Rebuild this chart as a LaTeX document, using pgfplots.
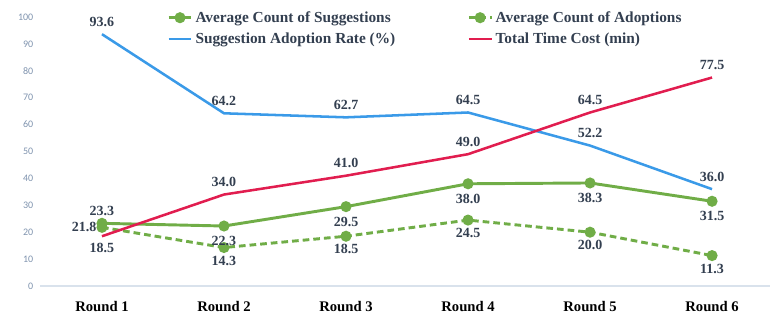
\documentclass[border=0pt]{standalone}
\usepackage{pgfplots}
\pgfplotsset{compat=1.18}
\usepackage{fontspec}
\setmainfont{Liberation Serif}
\newfontfamily\carlito{Carlito}
\definecolor{cgreen}{HTML}{70AD47}
\definecolor{cblue}{HTML}{3A9AE8}
\definecolor{cred}{HTML}{E11D4F}
\definecolor{clabel}{HTML}{333F50}
\definecolor{ctick}{HTML}{7F93AE}
\definecolor{caxis}{HTML}{D9E2EC}

\pgfplotsset{vlab/.style 2 args={
  draw=none, mark=none, forget plot,
  nodes near coords={\pgfmathprintnumber[fixed,zerofill,precision=1]{\pgfplotspointmeta}},
  point meta=y,
  every node near coord/.append style={anchor=#1, #2, font=\fontsize{10.5}{12}\selectfont\bfseries, text=clabel, inner sep=3pt},
}}

\begin{document}
\begin{tikzpicture}
\useasboundingbox (0,0) rectangle (580.5pt,237.75pt);
\begin{axis}[
  at={(30pt,23.25pt)}, anchor=south west,
  scale only axis, width=547.5pt, height=201.75pt,
  xmin=-0.508, xmax=5.475, ymin=0, ymax=100,
  axis lines*=left,
  x axis line style={draw=caxis, line width=1.2pt},
  y axis line style={draw=none},
  major tick length=0pt,
  xtick={0,1,2,3,4,5},
  xticklabels={Round 1,Round 2,Round 3,Round 4,Round 5,Round 6},
  xticklabel style={font=\fontsize{11}{13}\selectfont\bfseries, text=black, yshift=-8pt},
  ytick={0,10,...,100},
  yticklabel style={font=\carlito\fontsize{7.5}{9}\selectfont, text=ctick, xshift=-1.5pt},
  /pgf/number format/assume math mode=true,
  clip=false,
  legend columns=2,
  legend cell align=left,
  legend style={at={(0.172,1.037)}, anchor=north west, draw=none, fill=none,
    font=\fontsize{11.5}{12}\selectfont\bfseries, text=clabel,
    /tikz/every even column/.append style={column sep=52pt},
    row sep=2.5pt, inner sep=1pt},
]
\addplot[cgreen, line width=2.2pt, mark=*, mark size=3pt, mark options={solid}]
  coordinates {(0,23.3) (1,22.3) (2,29.5) (3,38.0) (4,38.3) (5,31.5)};
\addlegendentry{Average Count of Suggestions}
\addplot[cgreen, line width=2.2pt, dash pattern=on 5pt off 3pt, mark=*, mark size=3pt, mark options={solid}]
  coordinates {(0,21.8) (1,14.3) (2,18.5) (3,24.5) (4,20.0) (5,11.3)};
\addlegendentry{Average Count of Adoptions}
\addplot[cblue, line width=1.9pt, mark=none]
  coordinates {(0,93.6) (1,64.2) (2,62.7) (3,64.5) (4,52.2) (5,36.0)};
\addlegendentry{Suggestion Adoption Rate (\%)}
\addplot[cred, line width=1.9pt, mark=none]
  coordinates {(0,18.5) (1,34.0) (2,41.0) (3,49.0) (4,64.5) (5,77.5)};
\addlegendentry{Total Time Cost (min)}
% data labels
\addplot[vlab={south}{yshift=2.5pt}] coordinates {(0,23.3)};
\addplot[vlab={north}{yshift=-4.5pt}] coordinates {(1,22.3) (2,29.5) (3,38.0) (4,38.3) (5,31.5)};
\addplot[vlab={east}{xshift=-1pt}] coordinates {(0,21.8)};
\addplot[vlab={north}{yshift=-3pt}] coordinates {(1,14.3) (2,18.5) (3,24.5) (4,20.0) (5,11.3)};
\addplot[vlab={south}{yshift=2.5pt}] coordinates {(0,93.6) (1,64.2) (2,62.7) (3,64.5) (4,52.2) (5,36.0)};
\addplot[vlab={north}{yshift=-2pt}] coordinates {(0,18.5)};
\addplot[vlab={south}{yshift=2.5pt}] coordinates {(1,34.0) (2,41.0) (3,49.0) (4,64.5) (5,77.5)};
\end{axis}
\end{tikzpicture}
\end{document}
